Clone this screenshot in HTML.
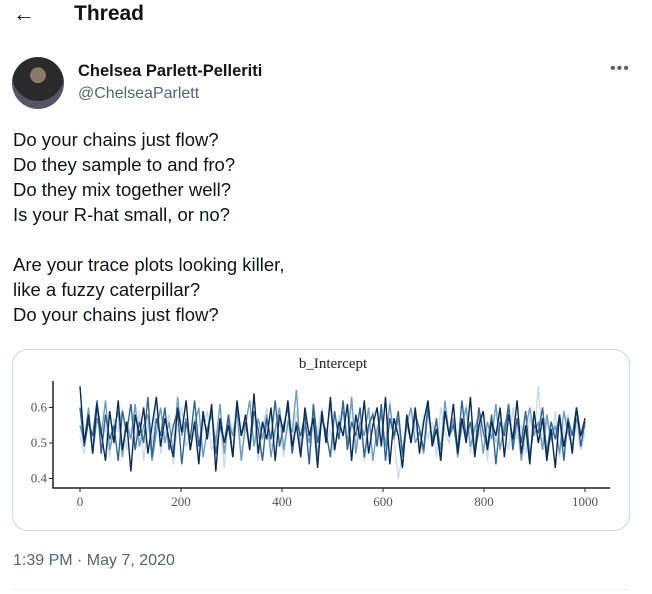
<!DOCTYPE html>
<html><head><meta charset="utf-8"><style>
body{margin:0;width:652px;height:594px;background:#fff;font-family:"Liberation Sans",sans-serif;color:#0f1419;position:relative;overflow:hidden}
.a{position:absolute;white-space:nowrap}
</style></head><body>
<div class="a" style="left:13px;top:0px;font-size:22px;line-height:28px">←</div>
<div class="a" style="left:74px;top:1px;font-size:21px;font-weight:bold;line-height:26px">Thread</div>
<div class="a" style="left:12px;top:57px;width:52px;height:52px;border-radius:50%;background:radial-gradient(circle at 50% 35%,#8a7a6a 0 18%,#2a2a2a 19% 60%,#556 61%);"></div>
<div class="a" style="left:78px;top:61px;font-size:16.5px;font-weight:bold;line-height:20px">Chelsea Parlett-Pelleriti</div>
<div class="a" style="left:78px;top:84px;font-size:16px;color:#536471;line-height:20px">@ChelseaParlett</div>
<div class="a" style="left:610px;top:60px;font-size:16px;color:#536471;letter-spacing:1px">•••</div>
<div class="a" style="left:13px;top:127px;font-size:18.5px;line-height:25px">Do your chains just flow?<br>Do they sample to and fro?<br>Do they mix together well?<br>Is your R-hat small, or no?<br><br>Are your trace plots looking killer,<br>like a fuzzy caterpillar?<br>Do your chains just flow?</div>
<div class="a" style="left:12px;top:349px;width:618px;height:182px;border:1px solid #cfd9de;border-radius:16px;box-sizing:border-box"></div>
<svg class="a" id="chart" style="left:0;top:0" width="652" height="594"></svg>
<div class="a" style="left:13px;top:551px;font-size:16px;color:#536471;line-height:20px">1:39 PM · May 7, 2020</div>
<div class="a" style="left:13px;top:589px;width:616px;height:1px;background:#eff3f4"></div>
<script>
const chainColors=["#c8dce9","#6b9cc0","#2f6391","#0b2a55"];
const xTicks=[0,200,400,600,800,1000];
const yTicks=[0.4,0.5,0.6];
const chain1=[0.52,0.47,0.58,0.50,0.61,0.49,0.55,0.46,0.57,0.53,0.60,0.48,0.54,0.51,0.59,0.45,0.56,0.50,0.62,0.47,0.53,0.58,0.44,0.55,0.60,0.49,0.52,0.57,0.46,0.54,0.59,0.48,0.51,0.56,0.43,0.58,0.53,0.61,0.47,0.55,0.50,0.57,0.45,0.54,0.60,0.49,0.52,0.58,0.46,0.55,0.51,0.59,0.48,0.56,0.44,0.57,0.53,0.60,0.50,0.54,0.47,0.58,0.52,0.55,0.61,0.49,0.56,0.45,0.53,0.59,0.50,0.55,0.48,0.62,0.51,0.40,0.47,0.57,0.52,0.55,0.49,0.58,0.51,0.56,0.46,0.60,0.53,0.50,0.57,0.48,0.54,0.61,0.47,0.55,0.52,0.59,0.45,0.56,0.50,0.58,0.53,0.48,0.60,0.51,0.55,0.47,0.57,0.52,0.66,0.49,0.56,0.50,0.59,0.46,0.54,0.58,0.50,0.55,0.48,0.53];
const chain2=[0.55,0.50,0.60,0.47,0.57,0.52,0.62,0.48,0.54,0.59,0.46,0.56,0.51,0.61,0.49,0.55,0.58,0.45,0.53,0.60,0.50,0.56,0.47,0.63,0.52,0.57,0.48,0.55,0.60,0.46,0.54,0.58,0.50,0.61,0.47,0.56,0.52,0.59,0.45,0.55,0.62,0.49,0.57,0.51,0.58,0.46,0.54,0.60,0.48,0.56,0.53,0.65,0.47,0.55,0.50,0.59,0.46,0.57,0.52,0.61,0.48,0.55,0.59,0.50,0.63,0.47,0.56,0.52,0.60,0.45,0.54,0.58,0.49,0.61,0.51,0.57,0.46,0.55,0.60,0.50,0.53,0.47,0.59,0.51,0.56,0.48,0.62,0.52,0.57,0.46,0.55,0.60,0.49,0.54,0.58,0.47,0.56,0.51,0.61,0.48,0.55,0.59,0.50,0.57,0.45,0.54,0.60,0.52,0.56,0.48,0.58,0.51,0.55,0.47,0.59,0.53,0.49,0.57,0.52,0.55];
const chain3=[0.60,0.49,0.56,0.52,0.62,0.47,0.58,0.51,0.55,0.45,0.59,0.53,0.61,0.48,0.56,0.50,0.63,0.46,0.57,0.52,0.60,0.48,0.55,0.59,0.44,0.56,0.51,0.62,0.49,0.57,0.53,0.60,0.47,0.55,0.50,0.58,0.46,0.61,0.52,0.56,0.48,0.59,0.54,0.45,0.57,0.51,0.62,0.49,0.55,0.60,0.47,0.56,0.52,0.58,0.44,0.61,0.50,0.57,0.53,0.46,0.59,0.51,0.62,0.48,0.56,0.52,0.60,0.46,0.55,0.58,0.49,0.61,0.45,0.57,0.52,0.59,0.47,0.56,0.50,0.58,0.54,0.48,0.61,0.50,0.57,0.45,0.59,0.52,0.55,0.48,0.62,0.51,0.56,0.47,0.60,0.53,0.49,0.58,0.44,0.56,0.52,0.61,0.48,0.57,0.50,0.59,0.46,0.55,0.53,0.60,0.47,0.56,0.51,0.58,0.45,0.57,0.52,0.60,0.49,0.56];
const chain4=[0.66,0.50,0.58,0.47,0.61,0.53,0.45,0.59,0.50,0.62,0.48,0.56,0.42,0.58,0.52,0.60,0.47,0.55,0.63,0.49,0.57,0.51,0.46,0.60,0.53,0.62,0.48,0.56,0.44,0.59,0.51,0.61,0.42,0.57,0.50,0.55,0.46,0.62,0.52,0.58,0.48,0.64,0.47,0.56,0.51,0.60,0.45,0.58,0.53,0.62,0.49,0.55,0.46,0.60,0.52,0.57,0.43,0.59,0.50,0.63,0.48,0.56,0.52,0.61,0.45,0.58,0.51,0.62,0.47,0.55,0.60,0.49,0.63,0.44,0.57,0.52,0.43,0.58,0.50,0.60,0.47,0.56,0.62,0.49,0.54,0.45,0.59,0.52,0.61,0.47,0.57,0.50,0.63,0.46,0.55,0.59,0.48,0.56,0.52,0.60,0.46,0.58,0.51,0.62,0.47,0.55,0.44,0.59,0.50,0.57,0.45,0.54,0.43,0.58,0.49,0.56,0.47,0.60,0.52,0.57];
const chains=[chain1,chain2,chain3,chain4];
const NS="http://www.w3.org/2000/svg",svg=document.getElementById('chart');
const xS=v=>80+(v-0)/1000*505, yS=v=>443-(v-0.5)*355;
function mk(t,a){const e=document.createElementNS(NS,t);for(const k in a)e.setAttribute(k,a[k]);svg.appendChild(e);return e;}
chains.forEach((c,ci)=>{
  const d=c.map((v,i)=>(i?'L':'M')+xS(i/(c.length-1)*1000).toFixed(1)+' '+yS(v).toFixed(1)).join('');
  const p=mk('path',{d:d,fill:'none',stroke:chainColors[ci],'stroke-width':1.4});
  
  
});
const ax=mk('path',{d:'M53 381V488H610',fill:'none',stroke:'#222','stroke-width':1.5});


xTicks.forEach(t=>{
  mk('line',{x1:xS(t),x2:xS(t),y1:488,y2:492,stroke:'#222'});
  const e=mk('text',{x:xS(t),y:506,'text-anchor':'middle','font-size':13,fill:'#555','font-family':'Liberation Serif,serif'});
  e.textContent=t;
  
  
});
yTicks.forEach(t=>{
  mk('line',{x1:49,x2:53,y1:yS(t),y2:yS(t),stroke:'#222'});
  const e=mk('text',{x:47,y:yS(t)+4,'text-anchor':'end','font-size':13,fill:'#555','font-family':'Liberation Serif,serif'});
  e.textContent=t.toFixed(1);
  
  
});
const ti=mk('text',{x:333,y:368,'text-anchor':'middle','font-size':15,fill:'#222','font-family':'Liberation Serif,serif'});
ti.textContent='b_Intercept';


</script>
</body></html>
